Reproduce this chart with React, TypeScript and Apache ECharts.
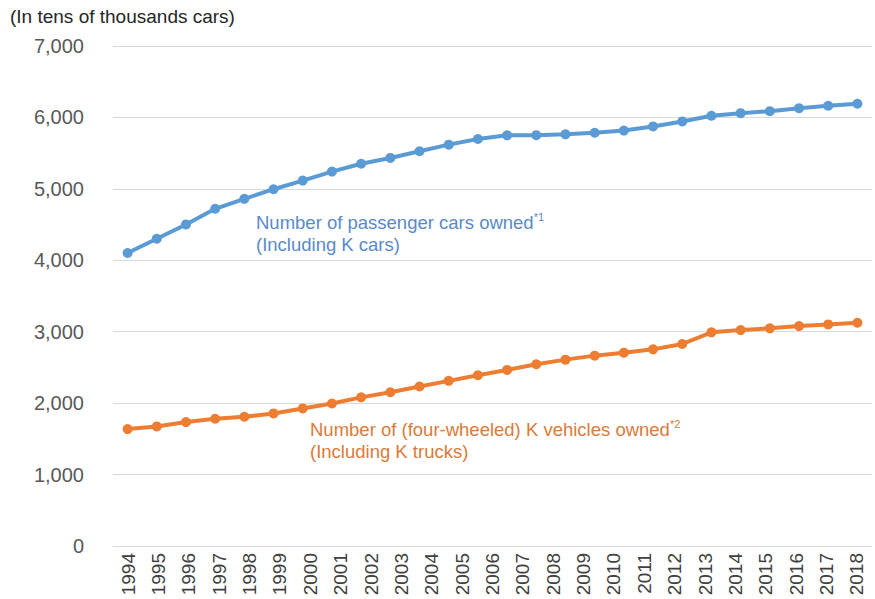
import React, { useEffect, useRef } from "react";
import * as echarts from "echarts";

// Year labels printed under the axis (25 labels)
const yearLabels = [
  "1994", "1995", "1996", "1997", "1998", "1999", "2000", "2001", "2002",
  "2003", "2004", "2005", "2006", "2007", "2008", "2009", "2010", "2011",
  "2012", "2013", "2014", "2015", "2016", "2017", "2018",
];

// The plotted lines carry 26 markers, evenly spread between the first and last label
const pointKeys = [
  "p01", "p02", "p03", "p04", "p05", "p06", "p07", "p08", "p09", "p10",
  "p11", "p12", "p13", "p14", "p15", "p16", "p17", "p18", "p19", "p20",
  "p21", "p22", "p23", "p24", "p25", "p26",
];

// Number of passenger cars owned (incl. K cars), tens of thousands
const passengerCars = [
  4102, 4302, 4502, 4721, 4860, 4995, 5116, 5242, 5352, 5433, 5526, 5619,
  5698, 5749, 5752, 5763, 5786, 5816, 5874, 5944, 6023, 6060, 6088, 6130,
  6163, 6191,
];

// Number of (four-wheeled) K vehicles owned (incl. K trucks), tens of thousands
const kVehicles = [
  1637, 1674, 1735, 1781, 1809, 1856, 1926, 1995, 2081, 2153, 2233, 2312,
  2391, 2465, 2544, 2609, 2665, 2707, 2753, 2828, 2991, 3023, 3047, 3079,
  3102, 3126,
];

const yMin = 0;
const yMax = 7000;
const yStep = 1000;

const unitLabel = "(In tens of thousands cars)";
const blueNote1 = "Number of passenger cars owned";
const blueSup = "*1";
const blueNote2 = "(Including K cars)";
const orangeNote1 = "Number of (four-wheeled) K vehicles owned";
const orangeSup = "*2";
const orangeNote2 = "(Including K trucks)";

const FONT = '"Liberation Sans", Arial, Helvetica, sans-serif';
const BLUE = "#5b9bd5";
const ORANGE = "#ed7d31";
const BLUE_TEXT = "#5a8ac8";
const ORANGE_TEXT = "#dc7a3a";

export default function App() {
  const ref = useRef<HTMLDivElement>(null);

  useEffect(() => {
    if (!ref.current) return;
    const chart = echarts.init(ref.current, undefined, { renderer: "svg" });
    chart.setOption({
      animation: false,
      backgroundColor: "#ffffff",
      textStyle: { fontFamily: FONT },
      grid: { left: 113, right: 3, top: 46, bottom: 53, containLabel: false },
      xAxis: [
        {
          type: "category",
          data: yearLabels,
          boundaryGap: true,
          axisLine: { show: true, lineStyle: { color: "#d9d9d9", width: 1 } },
          axisTick: { show: false },
          axisLabel: {
            rotate: 90,
            interval: 0,
            margin: 7,
            fontSize: 19,
            color: "#404040",
            fontFamily: FONT,
          },
          splitLine: { show: false },
        },
        {
          type: "category",
          data: pointKeys,
          boundaryGap: true,
          show: false,
          gridIndex: 0,
        },
      ],
      yAxis: {
        type: "value",
        min: yMin,
        max: yMax,
        interval: yStep,
        axisLine: { show: false },
        axisTick: { show: false },
        axisLabel: {
          margin: 29,
          fontSize: 20,
          color: "#595959",
          fontFamily: FONT,
          formatter: (v: number) => v.toLocaleString("en-US"),
        },
        splitLine: { show: true, lineStyle: { color: "#d9d9d9", width: 1 } },
      },
      series: [
        {
          name: "Passenger cars",
          type: "line",
          xAxisIndex: 1,
          data: passengerCars,
          symbol: "circle",
          symbolSize: 10,
          lineStyle: { color: BLUE, width: 4 },
          itemStyle: { color: BLUE },
        },
        {
          name: "K vehicles",
          type: "line",
          xAxisIndex: 1,
          data: kVehicles,
          symbol: "circle",
          symbolSize: 10,
          lineStyle: { color: ORANGE, width: 4 },
          itemStyle: { color: ORANGE },
        },
      ],
      graphic: [
        {
          type: "text",
          left: 10,
          top: 7,
          style: {
            text: unitLabel,
            fontSize: 19,
            fill: "#262626",
            fontFamily: FONT,
          },
        },
        {
          type: "text",
          x: 256,
          y: 211,
          style: {
            text: `{a|${blueNote1}}{s|${blueSup}}\n{a|${blueNote2}}`,
            fontFamily: FONT,
            rich: {
              a: { fontSize: 18.5, lineHeight: 22, fill: BLUE_TEXT, fontFamily: FONT },
              s: { fontSize: 11, lineHeight: 22, fill: BLUE_TEXT, verticalAlign: "top", fontFamily: FONT },
            },
          },
        },
        {
          type: "text",
          x: 310,
          y: 418,
          style: {
            text: `{a|${orangeNote1}}{s|${orangeSup}}\n{a|${orangeNote2}}`,
            fontFamily: FONT,
            rich: {
              a: { fontSize: 18.5, lineHeight: 22, fill: ORANGE_TEXT, fontFamily: FONT },
              s: { fontSize: 11, lineHeight: 22, fill: ORANGE_TEXT, verticalAlign: "top", fontFamily: FONT },
            },
          },
        },
      ],
    });
    return () => chart.dispose();
  }, []);

  return (
    <div
      ref={ref}
      style={{ position: "fixed", left: 0, top: 0, width: 875, height: 599, background: "#fff" }}
    />
  );
}
